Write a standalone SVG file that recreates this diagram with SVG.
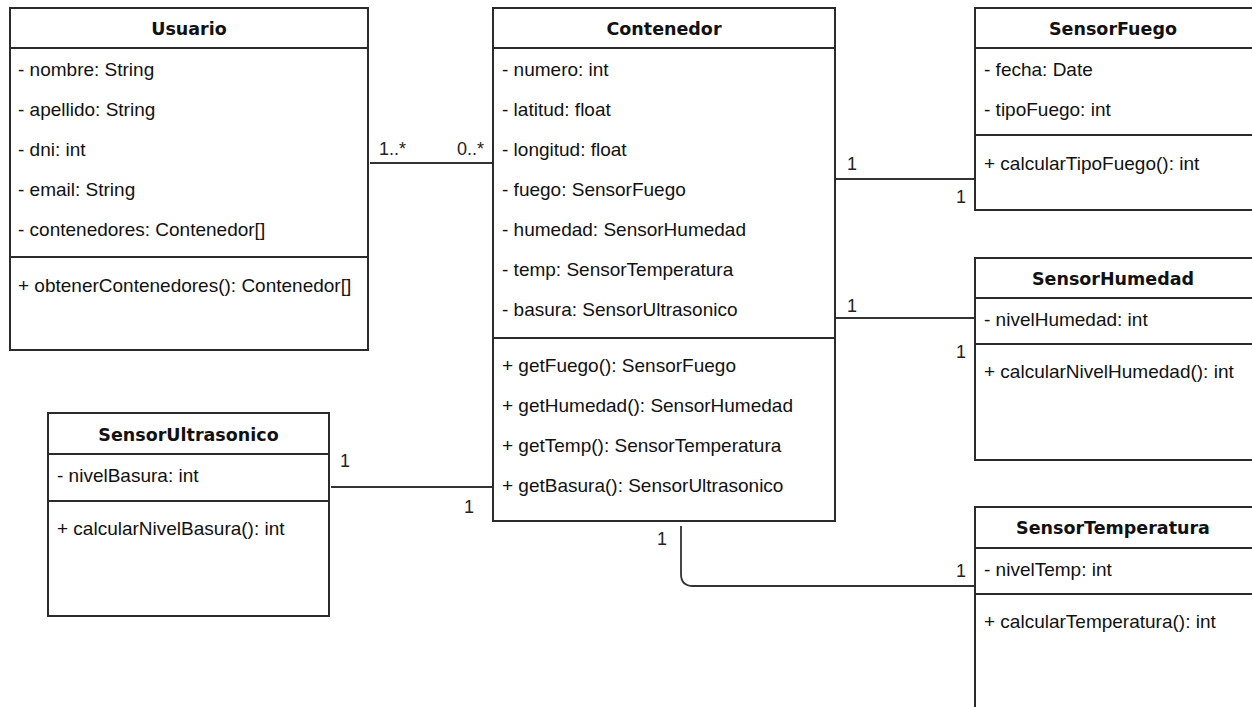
<svg xmlns="http://www.w3.org/2000/svg" width="1252" height="707" viewBox="0 0 1252 707">
<style>
.box{fill:#fff;stroke:#2b2b2b;stroke-width:2}
.div{stroke:#2b2b2b;stroke-width:2}
.title{font-family:"DejaVu Sans",Verdana,sans-serif;font-weight:bold;font-size:17.5px;fill:#111;text-anchor:middle}
.t{font-family:"Liberation Sans",Arial,sans-serif;font-size:19px;fill:#111}
.lbl{font-family:"Liberation Sans",Arial,sans-serif;font-size:18px;fill:#222}
.conn{fill:none;stroke:#333;stroke-width:1.8}
</style>
<rect width="1252" height="707" fill="#fff"/>
<g id="connectors">
<path class="conn" d="M370 163 H493"/>
<path class="conn" d="M835 179 H975"/>
<path class="conn" d="M835 318 H975"/>
<path class="conn" d="M331 487 H493"/>
<path class="conn" d="M681 526 V574 Q681 586 693 586 H975"/>
<text class="lbl" x="379" y="155">1..*</text>
<text class="lbl" x="457" y="155">0..*</text>
<text class="lbl" x="847" y="170">1</text>
<text class="lbl" x="956" y="203">1</text>
<text class="lbl" x="847" y="312">1</text>
<text class="lbl" x="956" y="358">1</text>
<text class="lbl" x="340" y="467">1</text>
<text class="lbl" x="464" y="513">1</text>
<text class="lbl" x="657" y="545">1</text>
<text class="lbl" x="956" y="577">1</text>
</g>
<g id="Usuario">
<rect class="box" x="10" y="8" width="358" height="342"/>
<line class="div" x1="10" y1="48" x2="368" y2="48"/>
<line class="div" x1="10" y1="257" x2="368" y2="257"/>
<text class="title" x="189" y="35">Usuario</text>
<text class="t" x="18" y="76">- nombre: String</text>
<text class="t" x="18" y="116">- apellido: String</text>
<text class="t" x="18" y="156">- dni: int</text>
<text class="t" x="18" y="196">- email: String</text>
<text class="t" x="18" y="236">- contenedores: Contenedor[]</text>
<text class="t" x="18" y="292">+ obtenerContenedores(): Contenedor[]</text>
</g>
<g id="Contenedor">
<rect class="box" x="493" y="8" width="342" height="513"/>
<line class="div" x1="493" y1="48" x2="835" y2="48"/>
<line class="div" x1="493" y1="338" x2="835" y2="338"/>
<text class="title" x="664" y="35">Contenedor</text>
<text class="t" x="502" y="76">- numero: int</text>
<text class="t" x="502" y="116">- latitud: float</text>
<text class="t" x="502" y="156">- longitud: float</text>
<text class="t" x="502" y="196">- fuego: SensorFuego</text>
<text class="t" x="502" y="236">- humedad: SensorHumedad</text>
<text class="t" x="502" y="276">- temp: SensorTemperatura</text>
<text class="t" x="502" y="316">- basura: SensorUltrasonico</text>
<text class="t" x="502" y="372">+ getFuego(): SensorFuego</text>
<text class="t" x="502" y="412">+ getHumedad(): SensorHumedad</text>
<text class="t" x="502" y="452">+ getTemp(): SensorTemperatura</text>
<text class="t" x="502" y="492">+ getBasura(): SensorUltrasonico</text>
</g>
<g id="SensorFuego">
<rect class="box" x="975" y="8" width="290" height="202"/>
<line class="div" x1="975" y1="48" x2="1265" y2="48"/>
<line class="div" x1="975" y1="135" x2="1265" y2="135"/>
<text class="title" x="1113" y="35">SensorFuego</text>
<text class="t" x="984" y="76">- fecha: Date</text>
<text class="t" x="984" y="116">- tipoFuego: int</text>
<text class="t" x="984" y="170">+ calcularTipoFuego(): int</text>
</g>
<g id="SensorHumedad">
<rect class="box" x="975" y="258" width="290" height="202"/>
<line class="div" x1="975" y1="298" x2="1265" y2="298"/>
<line class="div" x1="975" y1="344" x2="1265" y2="344"/>
<text class="title" x="1113" y="285">SensorHumedad</text>
<text class="t" x="984" y="326">- nivelHumedad: int</text>
<text class="t" x="984" y="378">+ calcularNivelHumedad(): int</text>
</g>
<g id="SensorTemperatura">
<rect class="box" x="975" y="507" width="290" height="220"/>
<line class="div" x1="975" y1="548" x2="1265" y2="548"/>
<line class="div" x1="975" y1="594" x2="1265" y2="594"/>
<text class="title" x="1113" y="534">SensorTemperatura</text>
<text class="t" x="984" y="576">- nivelTemp: int</text>
<text class="t" x="984" y="628">+ calcularTemperatura(): int</text>
</g>
<g id="SensorUltrasonico">
<rect class="box" x="48" y="413" width="281" height="203"/>
<line class="div" x1="48" y1="454" x2="329" y2="454"/>
<line class="div" x1="48" y1="501" x2="329" y2="501"/>
<text class="title" x="188.5" y="441">SensorUltrasonico</text>
<text class="t" x="57" y="482">- nivelBasura: int</text>
<text class="t" x="57" y="535">+ calcularNivelBasura(): int</text>
</g>
</svg>
